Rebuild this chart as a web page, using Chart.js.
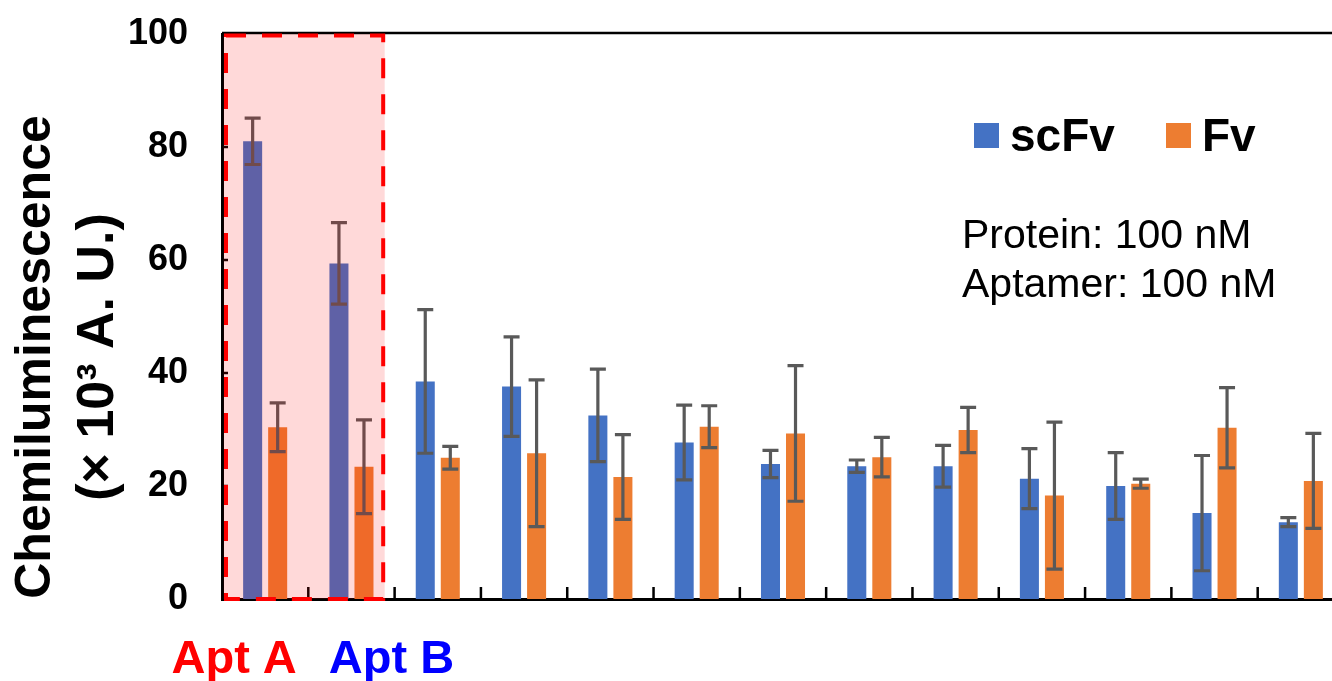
<!DOCTYPE html>
<html>
<head>
<meta charset="utf-8">
<script src="https://cdn.jsdelivr.net/npm/chart.js@4.4.1/dist/chart.umd.min.js"></script>
<style>
  html, body { margin:0; padding:0; background:#fff; overflow:hidden; }
  #wrap { position:relative; width:1350px; height:681px; }
</style>
</head>
<body>
<div id="wrap"><canvas id="chart"></canvas></div>
<script>
// ── data ───────────────────────────────────────────
const CATEGORIES = ['Apt A', 'Apt B', '', '', '', '', '', '', '', '', '', '', ''];
const SCFV     = [81.0, 59.4, 38.5, 37.6, 32.5, 27.7, 23.9, 23.5, 23.5, 21.3, 20.0, 15.2, 13.6];
const SCFV_ERR = [ 4.1,  7.2, 12.7,  8.8,  8.2,  6.6,  2.4,  1.1,  3.7,  5.3,  5.9, 10.2,  0.8];
const FV       = [30.4, 23.4, 25.0, 25.8, 21.6, 30.5, 29.3, 25.1, 29.9, 18.3, 20.4, 30.3, 20.9];
const FV_ERR   = [ 4.3,  8.3,  2.0, 13.0,  7.5,  3.7, 12.0,  3.5,  4.0, 13.0,  0.8,  7.1,  8.4];
const Y_MIN = 0, Y_MAX = 100, Y_STEP = 20;
const HIGHLIGHT = 2;           // first two groups boxed
const NOTES = ['Protein: 100 nM', 'Aptamer: 100 nM'];

const BLUE = '#4472C4';
const ORANGE = '#ED7D31';
const ERR_COL = '#595959';
const FONT = '"Liberation Sans", Arial, sans-serif';

// ── drawing extras: error bars, box, legend, texts ───
const extras = {
  id: 'extras',
  afterDatasetsDraw(chart) {
    const { ctx, chartArea: a, scales: { x, y } } = chart;
    const catW = (a.right - a.left) / CATEGORIES.length;
    ctx.save();

    // error bars
    [[SCFV, SCFV_ERR], [FV, FV_ERR]].forEach(([vals, errs], di) => {
      chart.getDatasetMeta(di).data.forEach((bar, i) => {
        const yt = y.getPixelForValue(vals[i] + errs[i]);
        const yb = y.getPixelForValue(vals[i] - errs[i]);
        ctx.strokeStyle = ERR_COL;
        ctx.lineWidth = 3.2;
        ctx.beginPath();
        ctx.moveTo(bar.x, yt); ctx.lineTo(bar.x, yb);
        ctx.moveTo(bar.x - 8, yt); ctx.lineTo(bar.x + 8, yt);
        ctx.moveTo(bar.x - 8, yb); ctx.lineTo(bar.x + 8, yb);
        ctx.stroke();
      });
    });

    // inward tick marks
    ctx.strokeStyle = '#000';
    ctx.lineWidth = 2.5;
    ctx.beginPath();
    for (let k = 1; k < CATEGORIES.length; k++) {
      const px = x.getPixelForValue(k) - catW / 2;
      ctx.moveTo(px, a.bottom); ctx.lineTo(px, a.bottom - 12);
    }
    for (let v = Y_MIN + Y_STEP; v < Y_MAX; v += Y_STEP) {
      const py = y.getPixelForValue(v);
      ctx.moveTo(a.left, py); ctx.lineTo(a.left + 6, py);
    }
    ctx.stroke();

    // top frame line
    ctx.lineWidth = 2.5;
    ctx.beginPath();
    ctx.moveTo(a.left, a.top - 1); ctx.lineTo(chart.width, a.top - 1);
    ctx.stroke();

    // highlight box (translucent red + dashed border)
    const bx0 = a.left + 1.5;
    const bx1 = x.getPixelForValue(HIGHLIGHT - 1) + catW * 0.385;
    ctx.fillStyle = 'rgba(255,0,0,0.15)';
    ctx.fillRect(bx0, a.top, bx1 - bx0, a.bottom - a.top);
    ctx.strokeStyle = '#FF0000';
    ctx.lineWidth = 4;
    ctx.setLineDash([20, 16]);
    ctx.strokeRect(bx0 + 2.5, a.top + 1.5, bx1 - bx0 - 4, a.bottom - a.top - 1.5);
    ctx.setLineDash([]);

    ctx.restore();
  },
  afterDraw(chart) {
    const { ctx, scales: { x } } = chart;
    ctx.save();

    // legend
    const items = chart.data.datasets.map(d => ({ label: d.label, color: d.backgroundColor }));
    const legX = [974, 1166];
    ctx.font = `bold 46px ${FONT}`;
    ctx.textBaseline = 'alphabetic';
    ctx.textAlign = 'left';
    items.forEach((it, i) => {
      ctx.fillStyle = it.color;
      ctx.fillRect(legX[i], 123, 25, 25);
      ctx.fillStyle = '#000';
      ctx.fillText(it.label, legX[i] + 36, 151);
    });

    // condition notes
    ctx.font = `41px ${FONT}`;
    NOTES.forEach((t, i) => ctx.fillText(t, 962, 248 + i * 49));

    // group labels under the axis
    ctx.font = `bold 47px ${FONT}`;
    ctx.textAlign = 'center';
    ctx.fillStyle = '#FF0000';
    ctx.fillText(CATEGORIES[0], x.getPixelForValue(0) - 31, 673);
    ctx.fillStyle = '#0000FF';
    ctx.fillText(CATEGORIES[1], x.getPixelForValue(1) + 40, 673);

    // y axis title
    ctx.fillStyle = '#000';
    ctx.textBaseline = 'middle';
    ctx.font = `bold 50px ${FONT}`;
    ctx.translate(36, 357);
    ctx.rotate(-Math.PI / 2);
    ctx.fillText('Chemiluminescence', 0, 0);
    ctx.font = `bold 52px ${FONT}`;
    ctx.fillText('(\u00D7 10\u00B3 A. U.)', 0, 63);
    ctx.restore();
  }
};

new Chart(document.getElementById('chart'), {
  type: 'bar',
  data: {
    labels: CATEGORIES,
    datasets: [
      { label: 'scFv', data: SCFV, backgroundColor: BLUE },
      { label: 'Fv',   data: FV,   backgroundColor: ORANGE },
    ],
  },
  options: {
    responsive: true,
    maintainAspectRatio: false,
    animation: false,
    layout: { autoPadding: false, padding: { top: 34, right: 6, bottom: 0, left: 0 } },
    datasets: { bar: { barPercentage: 0.76, categoryPercentage: 0.58 } },
    plugins: { legend: { display: false }, tooltip: { enabled: false } },
    scales: {
      x: {
        ticks: { display: false },
        grid: { display: false, drawTicks: false },
        border: { display: true, color: '#000', width: 3 },
        afterFit(scale) { scale.height = 82; scale.paddingLeft = 0; scale.paddingRight = 0; },
      },
      y: {
        min: Y_MIN, max: Y_MAX,
        ticks: {
          stepSize: Y_STEP, padding: 34, color: '#000',
          font: { family: FONT, size: 36, weight: 'bold' },
        },
        grid: { display: false, drawTicks: false },
        border: { display: true, color: '#000', width: 3 },
        afterFit(scale) { scale.width = 222; scale.paddingTop = 0; scale.paddingBottom = 0; },
      },
    },
  },
  plugins: [extras],
});
</script>
</body>
</html>
